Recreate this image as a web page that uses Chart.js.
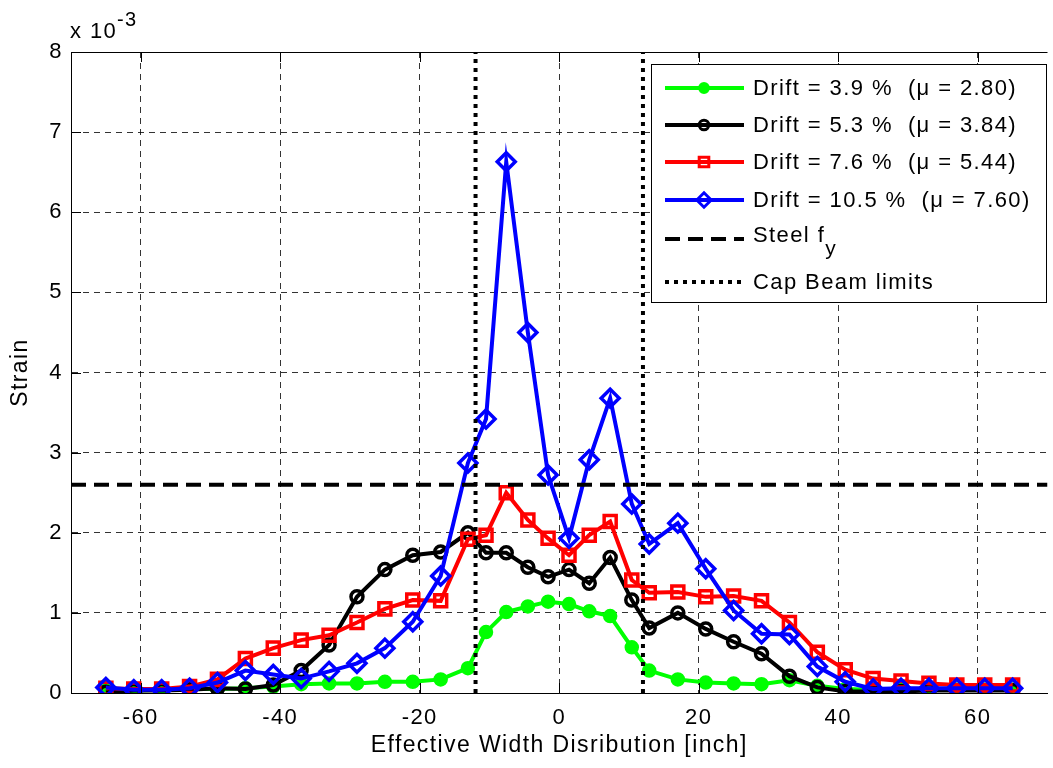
<!DOCTYPE html>
<html>
<head>
<meta charset="utf-8">
<title>Effective width strain distribution</title>
<script src="https://cdn.jsdelivr.net/npm/chart.js@4.4.0/dist/chart.umd.min.js"></script>
<style>
  html, body { margin: 0; padding: 0; background: #fff; overflow: hidden; }
  #wrap { width: 1060px; height: 768px; }
</style>
</head>
<body>
<div id="wrap"><canvas id="strainChart" width="1060" height="768"></canvas></div>
<script>
// gauge positions across the effective width [inch]
const widthPos = [-65, -61, -57, -53, -49, -45, -41, -37, -33, -29, -25, -21, -17, -13.1,
  -10.5, -7.6, -4.5, -1.6, 1.4, 4.3, 7.3, 10.4, 12.9, 17, 21, 25, 29, 33, 37, 41, 45, 49, 53, 57, 61, 65];

// strain values, in units of 1e-3
const drift39 = [0.03, 0.03, 0.04, 0.05, 0.05, 0.06, 0.08, 0.11, 0.12, 0.12, 0.14, 0.14, 0.17, 0.31,
  0.76, 1.01, 1.08, 1.14, 1.11, 1.02, 0.96, 0.57, 0.28, 0.17, 0.13, 0.12, 0.11, 0.16, 0.09, 0.05, 0.04, 0.04, 0.04, 0.04, 0.04, 0.04];
const drift53 = [0.01, 0.03, 0.03, 0.04, 0.06, 0.05, 0.10, 0.28, 0.60, 1.20, 1.54, 1.72, 1.76, 2.00,
  1.75, 1.75, 1.57, 1.45, 1.54, 1.37, 1.69, 1.16, 0.81, 1.00, 0.80, 0.64, 0.49, 0.21, 0.07, 0.02, 0.02, 0.02, 0.03, 0.03, 0.03, 0.03];
const drift76 = [0.06, 0.05, 0.05, 0.08, 0.17, 0.43, 0.56, 0.66, 0.72, 0.88, 1.05, 1.16, 1.15, 1.92,
  1.97, 2.50, 2.16, 1.93, 1.72, 1.97, 2.14, 1.41, 1.25, 1.26, 1.20, 1.21, 1.15, 0.88, 0.51, 0.29, 0.18, 0.15, 0.12, 0.10, 0.10, 0.10];
const drift105 = [0.07, 0.04, 0.04, 0.06, 0.13, 0.28, 0.23, 0.18, 0.27, 0.37, 0.56, 0.89, 1.46, 2.87,
  3.42, 6.63, 4.50, 2.72, 1.93, 2.91, 3.68, 2.36, 1.86, 2.12, 1.55, 1.03, 0.74, 0.73, 0.33, 0.14, 0.05, 0.06, 0.06, 0.06, 0.06, 0.06];

const seriesLabels = [
  "Drift = 3.9 %  (\u03bc = 2.80)",
  "Drift = 5.3 %  (\u03bc = 3.84)",
  "Drift = 7.6 %  (\u03bc = 5.44)",
  "Drift = 10.5 %  (\u03bc = 7.60)"
];

const xTicks = [-60, -40, -20, 0, 20, 40, 60];
const yTicks = [0, 1, 2, 3, 4, 5, 6, 7, 8];
const xRange = [-70, 70];
const yRange = [0, 8];
const steelFy = 2.6;          // yield strain, 1e-3
const capBeamLimits = [-12, 12];

const FONT = "'Liberation Sans', Arial, Helvetica, sans-serif";
const SPACING = "1.4px";
const pts = (vals) => widthPos.map((x, i) => ({ x: x, y: vals[i] }));

const seriesStyle = (color, style, radius, fill) => ({
  borderColor: color,
  backgroundColor: fill,
  borderWidth: 4,
  borderJoinStyle: "miter",
  pointStyle: style,
  pointRadius: radius,
  pointBorderWidth: 3.5,
  pointBorderColor: color,
  pointBackgroundColor: fill,
  pointHoverRadius: radius,
  tension: 0,
  fill: false
});

const datasets = [
  Object.assign({ label: seriesLabels[0], data: pts(drift39), order: 4 }, seriesStyle("#00ff00", "circle", 5.5, "#00ff00")),
  Object.assign({ label: seriesLabels[1], data: pts(drift53), order: 3 }, seriesStyle("#000000", "circle", 6, "rgba(0,0,0,0)")),
  Object.assign({ label: seriesLabels[2], data: pts(drift76), order: 2 }, seriesStyle("#ff0000", "rect", 8.5, "rgba(0,0,0,0)")),
  Object.assign({ label: seriesLabels[3], data: pts(drift105), order: 1 }, seriesStyle("#0000ff", "rectRot", 9, "rgba(0,0,0,0)")),
  {
    label: "Steel fy",
    data: [{ x: xRange[0], y: steelFy }, { x: xRange[1], y: steelFy }],
    borderColor: "#000", borderWidth: 4, borderDash: [15, 8], pointRadius: 0, order: 0
  }
];
capBeamLimits.forEach(x => {
  datasets.push({
    label: "Cap Beam limits",
    data: [{ x: x, y: yRange[0] }, { x: x, y: yRange[1] }],
    borderColor: "#000", borderWidth: 4, borderDash: [4, 5], borderCapStyle: "butt", pointRadius: 0, order: 0
  });
});

// box, inner ticks, exponent and legend drawn MATLAB style
const decorations = {
  id: "decorations",
  beforeLayout(chart) {
    chart.ctx.letterSpacing = SPACING;
  },
  beforeDraw(chart) {
    chart.ctx.letterSpacing = SPACING;
  },
  afterDraw(chart) {
    const ctx = chart.ctx;
    const area = chart.chartArea;
    const xs = chart.scales.x, ys = chart.scales.y;
    ctx.save();
    ctx.strokeStyle = "#000";
    ctx.lineWidth = 1;
    ctx.beginPath();
    ctx.moveTo(area.left, area.top + 0.5);
    ctx.lineTo(area.right, area.top + 0.5);
    xTicks.forEach(v => {
      const px = Math.round(xs.getPixelForValue(v)) + 0.5;
      ctx.moveTo(px, area.bottom); ctx.lineTo(px, area.bottom - 10);
      ctx.moveTo(px, area.top); ctx.lineTo(px, area.top + 10);
    });
    yTicks.forEach(v => {
      const py = Math.round(ys.getPixelForValue(v)) + 0.5;
      ctx.moveTo(area.left, py); ctx.lineTo(area.left + 10, py);
    });
    ctx.stroke();

    // exponent label
    ctx.fillStyle = "#000";
    ctx.textBaseline = "alphabetic";
    ctx.textAlign = "left";
    ctx.font = "22px " + FONT;
    ctx.fillText("x 10", 70, 38);
    ctx.font = "20px " + FONT;
    ctx.fillText("-3", 117, 26);

    // legend
    const bx = 651.5, by = 64.5, bw = 395, bh = 238;
    ctx.fillStyle = "#fff";
    ctx.fillRect(bx, by, bw, bh);
    ctx.strokeRect(bx, by, bw, bh);
    const rowY = [88, 125, 162, 200, 239, 282];
    const lx0 = 665, lx1 = 744, mx = 704, tx = 753;
    ctx.font = "22px " + FONT;
    ctx.textBaseline = "middle";
    for (let i = 0; i < 4; i++) {
      const ds = chart.data.datasets[i];
      ctx.setLineDash([]);
      ctx.strokeStyle = ds.borderColor;
      ctx.lineWidth = 4;
      ctx.beginPath(); ctx.moveTo(lx0, rowY[i]); ctx.lineTo(lx1, rowY[i]); ctx.stroke();
      ctx.fillStyle = ds.pointBackgroundColor;
      ctx.lineWidth = 3;
      Chart.helpers.drawPoint(ctx, {
        pointStyle: ds.pointStyle, radius: ds.pointRadius * 0.8, borderWidth: 3, rotation: 0
      }, mx, rowY[i]);
      ctx.fillStyle = "#000";
      ctx.fillText(seriesLabels[i], tx, rowY[i] + 1);
    }
    ctx.strokeStyle = "#000";
    ctx.lineWidth = 4;
    ctx.setLineDash([15, 8]);
    ctx.beginPath(); ctx.moveTo(lx0, rowY[4]); ctx.lineTo(lx1, rowY[4]); ctx.stroke();
    ctx.setLineDash([4, 5]);
    ctx.beginPath(); ctx.moveTo(lx0, rowY[5]); ctx.lineTo(lx1, rowY[5]); ctx.stroke();
    ctx.setLineDash([]);
    ctx.fillStyle = "#000";
    ctx.fillText("Steel f", tx, rowY[4] - 3);
    const w = ctx.measureText("Steel f").width;
    ctx.font = "21px " + FONT;
    ctx.fillText("y", tx + w, rowY[4] + 10);
    ctx.font = "22px " + FONT;
    ctx.fillText("Cap Beam limits", tx, rowY[5] + 1);
    ctx.restore();
  }
};

const tickFont = { family: FONT, size: 22 };
const titleFont = { family: FONT, size: 23 };

new Chart(document.getElementById("strainChart"), {
  type: "line",
  data: { datasets: datasets },
  options: {
    responsive: false,
    animation: false,
    events: [],
    layout: { padding: { top: 52, right: 3, left: 0, bottom: 0 } },
    plugins: { legend: { display: false }, tooltip: { enabled: false } },
    scales: {
      x: {
        type: "linear",
        min: xRange[0], max: xRange[1],
        afterBuildTicks: ax => { ax.ticks = xTicks.map(v => ({ value: v })); },
        afterFit: ax => { ax.height = 75; },
        ticks: { font: tickFont, color: "#000", padding: 12, maxRotation: 0, autoSkip: false },
        grid: { color: "rgba(0,0,0,0.8)", lineWidth: 1, drawTicks: false },
        border: { color: "#000", width: 1, dash: [6, 5] },
        title: {
          display: true, text: "Effective Width Disribution [inch]",
          font: titleFont, color: "#000", padding: { top: 0, bottom: 9 }
        }
      },
      y: {
        type: "linear",
        min: yRange[0], max: yRange[1],
        afterBuildTicks: ax => { ax.ticks = yTicks.map(v => ({ value: v })); },
        afterFit: ax => { ax.width = 71; },
        ticks: { font: tickFont, color: "#000", padding: 8 },
        grid: { color: "rgba(0,0,0,0.8)", lineWidth: 1, drawTicks: false },
        border: { color: "#000", width: 1, dash: [6, 5] },
        title: {
          display: true, text: "Strain",
          font: titleFont, color: "#000", padding: { top: 7, bottom: 0 }
        }
      }
    }
  },
  plugins: [decorations]
});
</script>
</body>
</html>
